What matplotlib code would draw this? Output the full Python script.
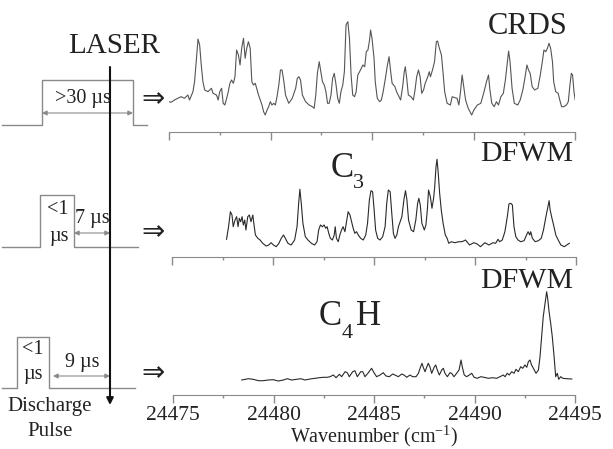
#! /usr/bin/env python
#-*- coding:utf-8 -*-

import numpy as np
import matplotlib
matplotlib.use('Agg')
from matplotlib import pyplot as plt
from matplotlib.ticker import MultipleLocator

plt.rcParams.update({
  "font.family": ['Liberation Serif', 'DejaVu Sans'],
  "mathtext.fontset": 'custom',
  "mathtext.rm": 'Liberation Serif',
  "mathtext.it": 'Liberation Serif:italic',
})

# wavenumber offsets from 24475 cm-1, signal in arbitrary units
WN0 = 24475
crds = np.array([
  (-0.20,20.3),(-0.10,31),(0.10,29.7),(0.27,32),(0.43,33.7),(0.60,35.3),(0.76,33.7),(0.93,37),(1.01,32),
  (1.18,40.3),(1.26,50.3),(1.34,70.3),(1.43,93),(1.51,87),(1.59,67),(1.67,50.3),(1.76,42),(1.92,40.3),
  (2.09,43.7),(2.17,38.7),(2.34,37),(2.42,32),(2.50,40.3),(2.59,43.7),(2.67,28.7),(2.75,27),(2.84,33.7),
  (2.92,40.3),(3.00,48.7),(3.08,52),(3.17,48.7),(3.25,55.3),(3.33,82),(3.42,77),(3.50,67),(3.58,83.7),
  (3.67,93.7),(3.75,73.7),(3.83,83.7),(3.91,90.3),(4.00,83.7),(4.08,50.3),(4.16,47),(4.25,48.7),(4.41,37),
  (4.58,27),(4.66,20.3),(4.74,17),(4.83,22),(4.91,25.3),(4.99,30.3),(5.07,27),(5.16,28.7),(5.24,27),
  (5.32,35.3),(5.41,47),(5.49,62),(5.57,62),(5.66,50.3),(5.74,37),(5.90,28.7),(6.07,33.7),(6.24,43.7),
  (6.32,53.7),(6.40,55.3),(6.48,52),(6.57,37),(6.73,30.3),(6.90,27),(7.06,25.3),(7.15,23.7),(7.23,37),
  (7.31,58.7),(7.40,70.3),(7.48,60.3),(7.56,50.3),(7.65,47),(7.73,40.3),(7.81,28.7),(7.89,28.7),(7.98,37),
  (8.06,53.7),(8.14,58.7),(8.23,47),(8.31,33.7),(8.39,28.7),(8.47,40.3),(8.56,47),(8.64,60.3),(8.72,107),
  (8.81,110.3),(8.89,93.7),(8.97,57),(9.05,37),(9.14,35.3),(9.22,40.3),(9.30,57),(9.39,60.3),(9.55,67),
  (9.64,65.3),(9.72,80.3),(9.80,82),(9.88,92),(9.93,102),(10.00,93.7),(10.10,73.7),(10.16,50.3),
  (10.26,33.7),(10.38,30.3),(10.46,32),(10.55,40.3),(10.66,53.7),(10.76,67),(10.84,75.3),(10.93,58.7),
  (10.99,48.7),(11.13,45.3),(11.21,40.3),(11.29,37),(11.41,32),(11.51,45.3),(11.59,60.3),(11.64,65.3),
  (11.71,53.7),(11.79,37),(11.92,35.3),(12.04,32),(12.12,42),(12.20,55.3),(12.29,62),(12.37,55.3),
  (12.45,38.7),(12.54,42),(12.62,48.7),(12.75,55.3),(12.82,60.3),(12.88,55.3),(12.98,62),(13.08,70.3),
  (13.17,90.3),(13.23,91),(13.32,83.7),(13.42,77),(13.48,63.7),(13.58,40.3),(13.70,28.7),(13.86,27),
  (13.95,35.3),(14.08,34.3),(14.19,33.7),(14.28,27),(14.36,40.3),(14.44,57),(14.53,43.7),(14.61,32),
  (14.74,23.7),(14.91,17),(15.02,22),(15.19,27),(15.36,28.7),(15.52,40.3),(15.64,50.3),(15.74,57),
  (15.80,43.7),(15.90,28.7),(16.02,25.3),(16.13,30.3),(16.23,27),(16.35,35.3),(16.47,38.7),(16.57,52),
  (16.65,67),(16.73,81),(16.80,70.3),(16.90,43.7),(17.01,28.7),(17.18,27),(17.30,32),(17.43,42),
  (17.53,53.7),(17.63,67),(17.71,62),(17.79,58.7),(17.89,45.3),(18.01,42),(18.17,43.7),(18.29,57),
  (18.39,70.3),(18.47,82),(18.56,80.3),(18.64,83.7),(18.72,88.7),(18.80,83.7),(18.89,70.3),(18.95,50.3),
  (19.05,40.3),(19.17,38.7),(19.25,32),(19.34,25.3),(19.45,25.3),(19.58,27),(19.67,30.3),(19.75,47),
  (19.82,58.7),(19.88,57),(19.95,40.3),(20.01,32)])

c3 = np.array([
  (2.70,17.7),(2.80,30.3),(2.89,45.3),(2.97,42),(3.03,30.3),(3.12,37),(3.20,40.3),(3.27,30.3),(3.33,38.7),
  (3.40,35.3),(3.47,40.3),(3.53,32),(3.60,37),(3.66,27),(3.75,40.3),(3.83,42),(3.91,35.3),(4.00,42),
  (4.05,33.7),(4.13,22),(4.25,18.7),(4.36,17),(4.49,13.7),(4.66,11),(4.79,12),(4.91,14.3),(5.02,12),
  (5.16,10.3),(5.29,13.7),(5.41,18.7),(5.52,22),(5.61,18.7),(5.74,13.7),(5.90,12),(6.07,17),(6.19,30.3),
  (6.27,53.7),(6.33,67.7),(6.40,53.7),(6.48,33.7),(6.60,20.3),(6.73,17),(6.90,13.7),(7.06,12),(7.18,15.3),
  (7.26,27),(7.35,32),(7.45,30.3),(7.53,32),(7.61,28.7),(7.68,30.3),(7.76,23.7),(7.84,18.7),(7.94,17),
  (8.03,22),(8.08,30.3),(8.14,18.7),(8.23,15.3),(8.31,22),(8.39,27),(8.47,30.3),(8.56,25.3),(8.64,35.3),
  (8.72,45.3),(8.81,42),(8.89,35.3),(8.97,28.7),(9.05,23.7),(9.14,25.3),(9.22,22),(9.34,18.7),(9.47,17),
  (9.59,22),(9.68,33.7),(9.77,57),(9.85,66.3),(9.93,65.3),(10.00,48.7),(10.08,27),(10.18,18.7),(10.30,17),
  (10.43,20.3),(10.55,30.3),(10.63,53.7),(10.71,67),(10.80,65.3),(10.88,43.7),(10.96,23.7),(11.04,18.7),
  (11.13,22),(11.21,30.3),(11.38,40.3),(11.49,58.7),(11.56,66.3),(11.63,57),(11.71,37),(11.84,27),
  (11.96,25.3),(12.07,37),(12.16,53.7),(12.22,58.7),(12.29,52),(12.37,33.7),(12.49,27),(12.57,32),
  (12.64,47),(12.70,67),(12.79,60.3),(12.87,48.7),(12.95,58.7),(13.00,68.7),(13.07,90.3),(13.12,97.7),
  (13.18,83.7),(13.25,63.7),(13.33,47),(13.42,33.7),(13.53,22),(13.62,18.7),(13.70,13.7),(13.83,15.3),
  (14.00,14.3),(14.20,15.3),(14.36,15.3),(14.53,17),(14.73,12),(14.94,14.3),(15.11,13),(15.27,10.3),
  (15.49,14.3),(15.69,12),(15.89,14.3),(16.02,13.7),(16.14,17.7),(16.22,15.3),(16.35,17),(16.48,25.3),
  (16.60,40.3),(16.68,53),(16.77,53.7),(16.85,52),(16.93,30.3),(17.02,20.3),(17.13,17),(17.26,15.3),
  (17.43,16.3),(17.55,22),(17.63,25.3),(17.71,22),(17.76,25.3),(17.84,18.7),(17.98,15.3),(18.14,16.3),
  (18.28,18.7),(18.39,27),(18.51,40.3),(18.61,50.3),(18.67,56.3),(18.72,47),(18.81,38.7),(18.89,32),
  (19.00,22),(19.12,17),(19.25,12),(19.42,10.3),(19.54,12),(19.67,13.7)])

c4h = np.array([
  (3.42,15),(3.75,16.3),(3.99,15.7),(4.25,14.3),(4.49,14.3),(4.74,15),(4.99,15.3),(5.24,14),(5.49,15),
  (5.69,16.3),(5.90,15),(6.15,15.7),(6.35,16.3),(6.57,15),(6.82,16),(7.07,16.7),(7.28,17.3),(7.48,17.7),
  (7.68,17.7),(7.81,18.3),(7.98,20),(8.11,17.3),(8.28,20.7),(8.39,18.3),(8.56,23.3),(8.67,22.3),
  (8.77,18.3),(8.94,23.3),(9.05,24.3),(9.17,18.3),(9.34,23.3),(9.44,23.3),(9.55,18.3),(9.72,22.3),
  (9.88,26.7),(10.00,22.3),(10.13,18.3),(10.30,20),(10.46,22.3),(10.60,19),(10.76,18.3),(10.93,21),
  (11.04,20),(11.21,18.3),(11.38,21),(11.49,20),(11.63,17.7),(11.79,20),(11.92,18.3),(12.09,18.3),
  (12.21,21.7),(12.32,28.3),(12.39,31.7),(12.45,27.7),(12.54,23.3),(12.62,27.7),(12.70,31.7),(12.79,27.7),
  (12.87,21.7),(12.99,27.7),(13.07,30),(13.15,25),(13.25,20),(13.37,25),(13.45,26.7),(13.53,21.7),
  (13.65,18.3),(13.78,22.3),(13.86,21.7),(13.98,18.3),(14.11,21.7),(14.23,25),(14.33,35),(14.39,28.3),
  (14.49,20),(14.61,18.3),(14.74,20),(14.86,21.7),(14.98,17.7),(15.14,16.7),(15.31,18.3),(15.47,17.7),
  (15.69,16.7),(15.90,17.3),(16.10,16.7),(16.27,18.3),(16.43,20),(16.52,18.3),(16.63,21.7),(16.73,20),
  (16.85,23.3),(16.97,21.7),(17.06,25.7),(17.18,23.3),(17.30,28.3),(17.40,26.7),(17.51,30),(17.60,27.7),
  (17.68,33.3),(17.76,35),(17.84,30),(17.93,26.7),(18.06,21.7),(18.18,25),(18.26,38.3),(18.34,58.3),
  (18.42,78.3),(18.51,91.7),(18.59,103.3),(18.64,96.7),(18.71,83.3),(18.79,71.7),(18.87,58.3),
  (18.96,38.3),(19.04,18.3),(19.12,21.7),(19.19,15.7),(19.29,18.3),(19.39,16.7),(19.59,16.3),(19.84,16)])

xticks = [24475, 24480, 24485, 24490, 24495]

# timing diagram (drawn in figure pixels)
pulse_top = ([2, 42, 42, 133, 133, 147], [125, 125, 80, 80, 125, 125])
pulse_mid = ([2, 40, 40, 74, 74, 138], [247, 247, 195, 195, 247, 247])
pulse_bot = ([2, 17, 17, 49, 49, 135], [388, 388, 337, 337, 388, 388])

W, H = 613., 449.
fig = plt.figure(num=1, figsize=(W/100, H/100), dpi=100)

def panel(left, right, base, data, color):
  ax = fig.add_axes([left/W, 1 - base/H, (right - left)/W, 122/H])
  ax.plot(WN0 + data[:, 0], data[:, 1], color=color, lw=0.8)
  ax.set_xlim(24475, 24495)
  ax.set_ylim(0, 122)
  ax.patch.set_alpha(0)
  for s in ('top', 'left', 'right'):
    ax.spines[s].set_visible(False)
  ax.spines['bottom'].set_color('#8a8a8a')
  ax.set_yticks([])
  ax.set_xticks(xticks)
  ax.xaxis.set_minor_locator(MultipleLocator(2.5))
  ax.tick_params(axis='x', which='major', direction='out', length=5.5, width=1,
                 color='#8a8a8a', labelsize=15.5, labelcolor='#222222', pad=2.5)
  ax.tick_params(axis='x', which='minor', direction='out', length=2.5, width=1, color='#8a8a8a')
  return ax

ax1 = panel(169, 575, 132, crds, '#555555')
ax2 = panel(172, 576, 257, c3, '#2a2a2a')
ax3 = panel(173, 575, 395, c4h, '#2a2a2a')
ax1.set_xticklabels([])
ax2.set_xticklabels([])
ax3.set_xlabel("Wavenumber (cm$^{-1}$)", fontsize=14.5, color='#222222', labelpad=-1)

ov = fig.add_axes([0, 0, 1, 1], zorder=5)
ov.set_xlim(0, W)
ov.set_ylim(H, 0)
ov.axis('off')
ov.patch.set_alpha(0)

gray = '#8a8a8a'
txt = '#222222'
for px, py in (pulse_top, pulse_mid, pulse_bot):
  ov.plot(px, py, color=gray, lw=1)

for x0, x1, y in ((42, 133, 113), (74, 110, 233), (53, 110, 376)):
  ov.annotate('', xy=(x1, y), xytext=(x0, y),
              arrowprops=dict(arrowstyle='<|-|>', color=gray, lw=0.8,
                              mutation_scale=7, shrinkA=0, shrinkB=0))

ov.annotate('', xy=(110, 405), xytext=(110, 67),
            arrowprops=dict(arrowstyle='-|>', color='#111111', lw=1.5,
                            mutation_scale=10, shrinkA=0, shrinkB=0))

ov.text(114, 46, "LASER", fontsize=21, ha='center', va='center', color=txt)
ov.text(83, 99, ">30 µs", fontsize=14.5, ha='center', va='center', color=txt)
ov.text(58, 209, "<1", fontsize=14.5, ha='center', va='center', color=txt)
ov.text(59, 236, "µs", fontsize=14.5, ha='center', va='center', color=txt)
ov.text(92, 218, "7 µs", fontsize=14.5, ha='center', va='center', color=txt)
ov.text(33, 349, "<1", fontsize=14.5, ha='center', va='center', color=txt)
ov.text(33, 375, "µs", fontsize=14.5, ha='center', va='center', color=txt)
ov.text(82, 362, "9 µs", fontsize=14.5, ha='center', va='center', color=txt)
ov.text(50, 407, "Discharge", fontsize=15, ha='center', va='center', color=txt)
ov.text(50, 432, "Pulse", fontsize=15, ha='center', va='center', color=txt)
for y in (99, 232, 373):
  ov.text(153, y, "⇒", fontsize=20, ha='center', va='center', color=txt,
          family=['DejaVu Sans'])

ov.text(528, 27, "CRDS", fontsize=22, ha='center', va='center', color=txt)
ov.text(527, 154, "DFWM", fontsize=21.5, ha='center', va='center', color=txt)
ov.text(527, 281, "DFWM", fontsize=21.5, ha='center', va='center', color=txt)
# molecule labels with low-set subscripts
ov.text(331, 177, "C", fontsize=25, ha='left', va='baseline', color=txt)
ov.text(353, 188, "3", fontsize=16, ha='left', va='baseline', color=txt)
ov.text(319, 325, "C", fontsize=25, ha='left', va='baseline', color=txt)
ov.text(342, 338, "4", fontsize=16, ha='left', va='baseline', color=txt)
ov.text(356, 325, "H", fontsize=25, ha='left', va='baseline', color=txt)

fig.savefig('out.png', dpi=100)
